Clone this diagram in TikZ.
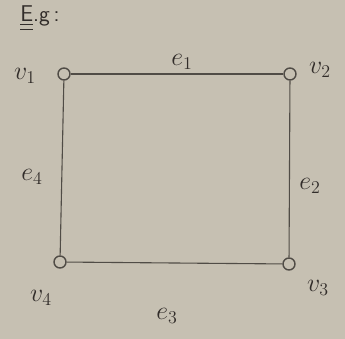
\documentclass[tikz,border=0pt]{standalone}
\usepackage{amsmath,amssymb}
\usepackage{tikz}
\usetikzlibrary{positioning, calc}
\usepackage{xcolor}
\definecolor{paper}{RGB}{198,192,178}
\definecolor{pencil}{RGB}{80,76,70}
\definecolor{ink}{RGB}{50,45,42}

\begin{document}
\begin{tikzpicture}[x=1pt, y=-1pt,
  vertex/.style={circle, draw=pencil, line width=1.4pt, inner sep=0pt, minimum size=12pt},
  edge/.style={pencil, line width=1.1pt},
  lbl/.style={ink, font=\huge, scale=1.25}]
  % paper
  \fill[paper] (0,0) rectangle (345,339);
  \useasboundingbox (0,0) rectangle (345,339);
  \node[ink, font=\huge\sffamily, scale=1.1] (eg) at (40,18) {\underline{\underline{E}}.g\,:};
  % Vertices
  \node[vertex] (v1) at (64,74) {};
  \node[vertex] (v2) at (290,74) {};
  \node[vertex] (v3) at (289,264) {};
  \node[vertex] (v4) at (60,262) {};
  % Edges
  \draw[edge] (v1) -- (v2);
  \draw[edge] (v2) -- (v3);
  \draw[edge] (v3) -- (v4);
  \draw[edge] (v4) -- (v1);
  % Labels
  \node[lbl] (l1) at (25,76) {$v_1$};
  \node[lbl] (l2) at (320,70) {$v_2$};
  \node[lbl] (l3) at (318,288) {$v_3$};
  \node[lbl] (l4) at (41,298) {$v_4$};
  \node[lbl] (le1) at (182,62) {$e_1$};
  \node[lbl] (le2) at (310,186) {$e_2$};
  \node[lbl] (le3) at (167,316) {$e_3$};
  \node[lbl] (le4) at (32,177) {$e_4$};
\end{tikzpicture}
\end{document}
